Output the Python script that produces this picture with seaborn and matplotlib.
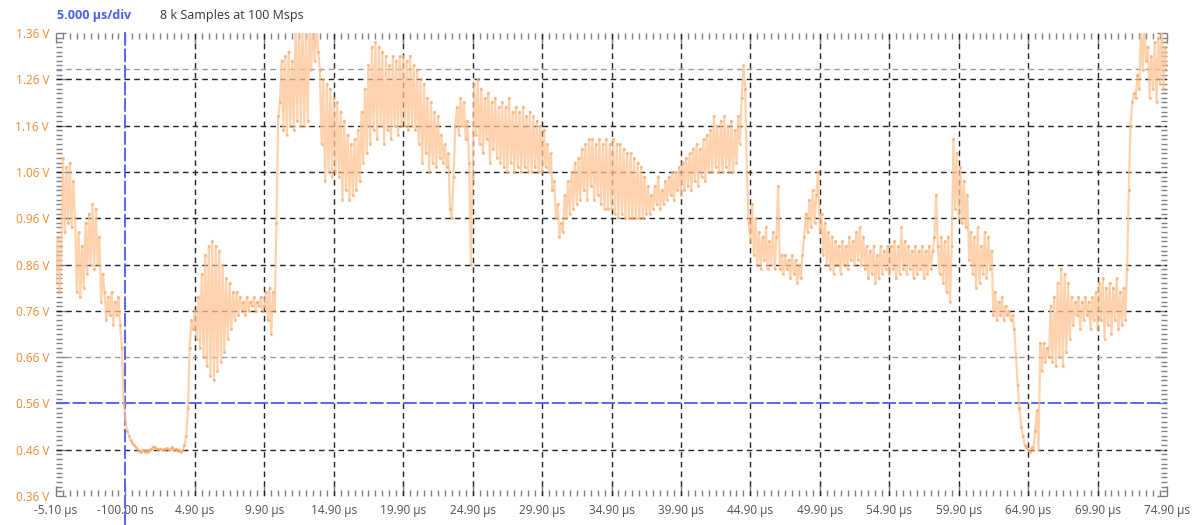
import numpy as np
import pandas as pd
import matplotlib.pyplot as plt
import seaborn as sns

# sample clock of the trace (one value every 0.125 us, first one at -5.10 us)
T_START = -5.1
DT = 0.125

div00 = [0.82, 0.92, 0.80, 0.90, 1.09, 0.93, 1.07, 0.95, 1.08, 0.94, 1.04, 0.96, 0.80, 0.93, 0.79, 0.90,
         0.81, 0.95, 0.84, 0.97, 0.86, 0.99, 0.85, 0.98, 0.86, 0.92, 0.78, 0.84, 0.80, 0.74, 0.79, 0.75,
         0.80, 0.73, 0.78, 0.75, 0.79, 0.73, 0.68, 0.56]
div01 = [0.52, 0.50, 0.49, 0.48, 0.475, 0.47, 0.465, 0.46, 0.458, 0.455, 0.46, 0.455, 0.458, 0.455, 0.46, 0.462,
         0.466, 0.465, 0.462, 0.46, 0.462, 0.46, 0.462, 0.46, 0.463, 0.46, 0.462, 0.465, 0.46, 0.462, 0.458, 0.46,
         0.455, 0.46, 0.47, 0.49, 0.55, 0.68, 0.74, 0.72]
div02 = [0.76, 0.70, 0.79, 0.68, 0.84, 0.66, 0.88, 0.64, 0.90, 0.62, 0.91, 0.61, 0.90, 0.63, 0.89, 0.65,
         0.86, 0.67, 0.83, 0.70, 0.82, 0.72, 0.80, 0.74, 0.80, 0.75, 0.79, 0.76, 0.78, 0.75, 0.79, 0.76,
         0.78, 0.77, 0.79, 0.76, 0.78, 0.77, 0.79, 0.76]
div03 = [0.77, 0.80, 0.74, 0.81, 0.71, 0.80, 0.76, 0.95, 1.18, 1.21, 1.30, 1.15, 1.31, 1.14, 1.32, 1.16,
         1.30, 1.15, 1.38, 1.17, 1.38, 1.16, 1.37, 1.16, 1.38, 1.17, 1.38, 1.28, 1.38, 1.30, 1.38, 1.32,
         1.28, 1.12, 1.26, 1.04, 1.25, 1.06, 1.24, 1.05]
div04 = [1.22, 1.06, 1.21, 1.05, 1.19, 1.00, 1.17, 1.02, 1.14, 1.00, 1.12, 1.01, 1.13, 1.02, 1.15, 1.04,
         1.19, 1.08, 1.24, 1.10, 1.29, 1.12, 1.33, 1.15, 1.34, 1.13, 1.33, 1.16, 1.32, 1.12, 1.31, 1.15,
         1.29, 1.13, 1.31, 1.16, 1.30, 1.14, 1.31, 1.16]
div05 = [1.31, 1.16, 1.30, 1.15, 1.31, 1.16, 1.29, 1.15, 1.28, 1.12, 1.26, 1.08, 1.25, 1.10, 1.22, 1.06,
         1.21, 1.08, 1.19, 1.07, 1.18, 1.09, 1.14, 1.08, 1.12, 1.07, 1.10, 0.98, 0.96, 1.05, 1.16, 1.20,
         1.14, 1.22, 1.16, 1.21, 1.13, 1.17, 1.08, 0.86]
div06 = [1.05, 1.25, 1.14, 1.26, 1.12, 1.24, 1.10, 1.22, 1.13, 1.23, 1.08, 1.21, 1.11, 1.22, 1.09, 1.20,
         1.08, 1.21, 1.07, 1.20, 1.06, 1.22, 1.08, 1.19, 1.06, 1.20, 1.07, 1.19, 1.06, 1.20, 1.07, 1.18,
         1.06, 1.19, 1.06, 1.18, 1.07, 1.17, 1.06, 1.16]
div07 = [1.06, 1.15, 1.07, 1.12, 1.06, 1.10, 1.02, 1.04, 0.96, 0.99, 0.92, 0.95, 0.93, 1.01, 0.96, 1.04,
         0.97, 1.06, 0.98, 1.08, 0.99, 1.09, 1.00, 1.11, 1.02, 1.12, 1.00, 1.13, 1.03, 1.13, 1.00, 1.12,
         1.01, 1.13, 0.99, 1.12, 0.98, 1.13, 0.98, 1.12]
div08 = [0.98, 1.13, 0.97, 1.12, 0.96, 1.12, 0.97, 1.11, 0.96, 1.10, 0.96, 1.10, 0.96, 1.09, 0.96, 1.08,
         0.96, 1.07, 0.96, 1.05, 0.97, 1.03, 0.97, 1.01, 0.98, 1.03, 0.99, 1.05, 0.98, 1.02, 0.99, 1.04,
         1.00, 1.05, 1.01, 1.06, 1.00, 1.06, 1.02, 1.07]
div09 = [1.01, 1.08, 1.02, 1.09, 1.03, 1.10, 1.02, 1.11, 1.04, 1.12, 1.03, 1.11, 1.05, 1.13, 1.04, 1.14,
         1.06, 1.15, 1.06, 1.18, 1.07, 1.16, 1.06, 1.17, 1.06, 1.18, 1.07, 1.16, 1.06, 1.17, 1.06, 1.15,
         1.08, 1.18, 1.12, 1.22, 1.29, 1.24, 1.06, 0.95]
div10 = [0.91, 0.99, 0.88, 0.96, 0.86, 0.93, 0.85, 0.92, 0.87, 0.94, 0.85, 0.91, 0.86, 0.93, 0.85, 0.92,
         1.03, 0.85, 0.88, 0.84, 0.88, 0.85, 0.87, 0.83, 0.88, 0.84, 0.87, 0.82, 0.86, 0.83, 0.88, 0.92,
         0.97, 0.93, 1.00, 0.94, 1.02, 0.95, 1.01, 1.06]
div11 = [0.93, 0.97, 0.88, 0.95, 0.86, 0.93, 0.85, 0.92, 0.84, 0.91, 0.86, 0.90, 0.84, 0.91, 0.86, 0.90,
         0.85, 0.92, 0.87, 0.91, 0.86, 0.93, 0.87, 0.94, 0.86, 0.92, 0.85, 0.90, 0.83, 0.89, 0.84, 0.90,
         0.82, 0.88, 0.83, 0.90, 0.84, 0.89, 0.85, 0.90]
div12 = [0.84, 0.90, 0.85, 0.91, 0.83, 0.90, 0.84, 0.94, 0.85, 0.91, 0.84, 0.90, 0.85, 0.89, 0.83, 0.90,
         0.84, 0.89, 0.85, 0.90, 0.83, 0.89, 0.84, 0.90, 0.85, 0.89, 0.92, 1.01, 0.90, 0.84, 0.92, 0.82,
         0.91, 0.80, 0.92, 0.78, 0.90, 1.13, 0.98, 1.10]
div13 = [0.96, 1.07, 0.95, 1.04, 0.94, 1.01, 0.87, 0.93, 0.84, 0.92, 0.81, 0.94, 0.82, 0.90, 0.84, 0.93,
         0.83, 0.92, 0.85, 0.89, 0.75, 0.80, 0.74, 0.78, 0.75, 0.79, 0.74, 0.77, 0.75, 0.76, 0.74, 0.75,
         0.72, 0.66, 0.60, 0.55, 0.51, 0.49, 0.47, 0.465]
div14 = [0.46, 0.455, 0.465, 0.46, 0.50, 0.545, 0.46, 0.69, 0.63, 0.69, 0.65, 0.68, 0.66, 0.77, 0.65, 0.79,
         0.64, 0.82, 0.66, 0.85, 0.64, 0.84, 0.67, 0.82, 0.70, 0.79, 0.73, 0.78, 0.75, 0.79, 0.72, 0.78,
         0.74, 0.79, 0.75, 0.78, 0.72, 0.79, 0.74, 0.80]
div15 = [0.72, 0.82, 0.74, 0.83, 0.70, 0.81, 0.73, 0.82, 0.71, 0.81, 0.74, 0.83, 0.72, 0.80, 0.73, 0.81,
         0.74, 0.85, 1.02, 1.16, 1.21, 1.23, 1.22, 1.27, 1.24, 1.38, 1.28, 1.38, 1.30, 1.33, 1.22, 1.31,
         1.24, 1.34, 1.21, 1.35, 1.25, 1.38, 1.24, 1.33, 1.29]

x_ticks = [-5.1, -0.1, 4.9, 9.9, 14.9, 19.9, 24.9, 29.9, 34.9, 39.9, 44.9, 49.9, 54.9, 59.9, 64.9, 69.9, 74.9]
x_labels = ["-5.10 µs", "-100.00 ns", "4.90 µs", "9.90 µs", "14.90 µs", "19.90 µs", "24.90 µs",
            "29.90 µs", "34.90 µs", "39.90 µs", "44.90 µs", "49.90 µs", "54.90 µs", "59.90 µs",
            "64.90 µs", "69.90 µs", "74.90 µs"]
y_ticks = [0.36, 0.46, 0.56, 0.66, 0.76, 0.86, 0.96, 1.06, 1.16, 1.26, 1.36]
y_labels = ["0.36 V", "0.46 V", "0.56 V", "0.66 V", "0.76 V", "0.86 V", "0.96 V", "1.06 V",
            "1.16 V", "1.26 V", "1.36 V"]

trigger_time = -0.1
trigger_level = 0.56
cursor_levels = [0.66, 1.282]

volts = np.concatenate([div00, div01, div02, div03, div04, div05, div06, div07,
                        div08, div09, div10, div11, div12, div13, div14, div15])
df = pd.DataFrame({"t": T_START + DT * np.arange(len(volts)), "v": volts})

sns.set_style("white")
plt.rcParams["font.family"] = ["Open Sans", "DejaVu Sans"]

fig = plt.figure(figsize=(12.02, 5.25), dpi=100)
ax = fig.add_axes([56 / 1202, 1 - 496 / 525, 1111 / 1202, 463 / 525])

ax.set_xlim(x_ticks[0], x_ticks[-1])
ax.set_ylim(y_ticks[0], y_ticks[-1])

# grid
for xt in x_ticks[1:-1]:
    if xt == trigger_time:
        continue
    ax.axvline(xt, color="#222222", lw=1.0, ls=(0, (4, 3)), zorder=1)
for yt in y_ticks[1:-1]:
    if yt == trigger_level or yt in cursor_levels:
        continue
    ax.axhline(yt, color="#222222", lw=1.0, ls=(0, (4, 3)), zorder=1)
for yc in cursor_levels:
    ax.axhline(yc, color="#9a9a9a", lw=1.0, ls=(0, (4, 3)), zorder=1)

# trace
sns.lineplot(data=df, x="t", y="v", ax=ax, color="#ffc393", lw=1.6, alpha=0.75,
             estimator=None, sort=False, zorder=3)
ax.plot(df["t"], df["v"], ls="none", marker="s", ms=1.2, color="#f79a50", alpha=0.4, zorder=4)

# trigger markers
ax.axhline(trigger_level, color="#5468e8", lw=1.4, ls=(0, (7, 1.5)), zorder=2)
ax.axvline(trigger_time, ymin=-29 / 463, ymax=1 + 3 / 463, color="#5468e8", lw=1.4,
           ls=(0, (7, 1.5)), zorder=2, clip_on=False)

# ticks
ax.set_xticks(x_ticks)
ax.set_xticklabels(x_labels)
ax.set_xticks(np.arange(x_ticks[0], x_ticks[-1] + 0.01, 0.5), minor=True)
ax.set_yticks(y_ticks)
ax.set_yticklabels(y_labels)
ax.set_yticks(np.arange(y_ticks[0], y_ticks[-1] + 0.001, 0.01), minor=True)

ax.tick_params(axis="both", which="both", direction="in", color="#808080", width=1)
ax.tick_params(axis="x", which="both", top=True, bottom=True)
ax.tick_params(axis="y", which="both", left=True, right=True)
ax.tick_params(which="major", length=7)
ax.tick_params(which="minor", length=4)
ax.tick_params(axis="x", labelsize=8.5, labelcolor="#505050", pad=6)
ax.tick_params(axis="y", labelsize=8.5, labelcolor="#f08a30", pad=5)

for s in ax.spines.values():
    s.set_visible(False)
ax.set_xlabel("")
ax.set_ylabel("")

fig.text(57 / 1202, 1 - 15 / 525, "5.000 µs/div", color="#4a5ef0", fontsize=9,
         fontweight="bold", va="center", ha="left")
fig.text(160 / 1202, 1 - 15 / 525, "8 k Samples at 100 Msps", color="#333333",
         fontsize=9, va="center", ha="left")

fig.savefig("out.png", dpi=100)
